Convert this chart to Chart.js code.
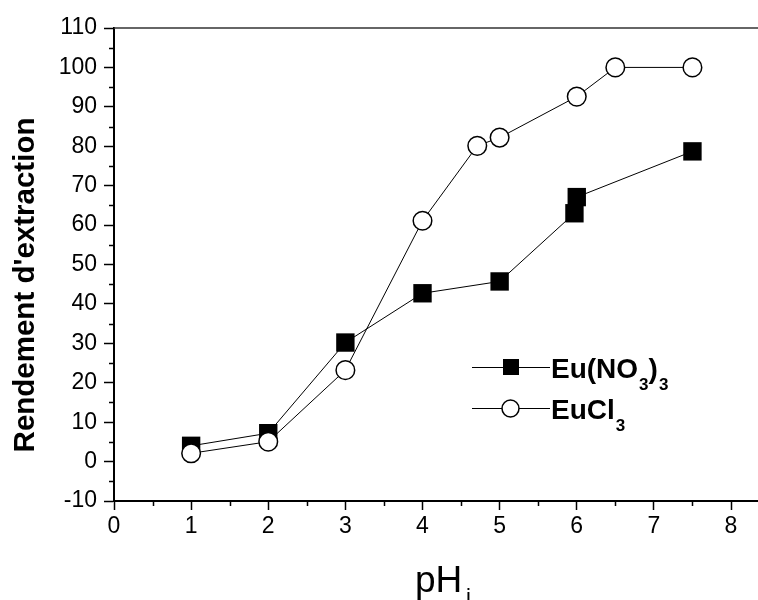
<!DOCTYPE html>
<html>
<head>
<meta charset="utf-8">
<script src="https://cdn.jsdelivr.net/npm/chart.js@4"></script>
<style>
  html, body { margin: 0; padding: 0; background: #fff; overflow: hidden; }
  canvas { display: block; }
</style>
</head>
<body>
<canvas id="extractionChart" width="758" height="600"></canvas>
<script>
// pH values and extraction yields (%)
const phNitrate = [1, 2, 3, 4, 5, 5.97, 6, 7.5];
const yieldNitrate = [4, 7.2, 30.2, 42.7, 45.7, 63, 67.1, 78.7];
const phChloride = [1, 2, 3, 4, 4.71, 5, 6, 6.5, 7.5];
const yieldChloride = [2.1, 5.05, 23.2, 61.1, 80.1, 82.2, 92.6, 100, 100];

const xTicks = [0, 1, 2, 3, 4, 5, 6, 7, 8];
const yTicks = [-10, 0, 10, 20, 30, 40, 50, 60, 70, 80, 90, 100, 110];

const toPoints = (xs, ys) => xs.map((x, i) => ({ x: x, y: ys[i] }));

// minor ticks, top frame, axis titles and the legend (with subscripts)
const decorations = {
    id: 'decorations',
    afterDraw(chart) {
        const ctx = chart.ctx;
        const area = chart.chartArea;
        const xs = chart.scales.x;
        const ys = chart.scales.y;
        ctx.save();
        ctx.strokeStyle = '#000';
        ctx.lineWidth = 1.5;
        ctx.beginPath();
        for (let v = -5; v < 110; v += 10) {
            const py = Math.round(ys.getPixelForValue(v)) + 0.5;
            ctx.moveTo(area.left - 5, py);
            ctx.lineTo(area.left, py);
        }
        for (let v = 0.5; v < 8; v += 1) {
            const px = Math.round(xs.getPixelForValue(v)) + 0.5;
            ctx.moveTo(px, area.bottom);
            ctx.lineTo(px, area.bottom + 5);
        }
        ctx.stroke();

        // top frame
        ctx.strokeStyle = '#333';
        ctx.lineWidth = 1.5;
        ctx.beginPath();
        ctx.moveTo(area.left, area.top);
        ctx.lineTo(area.right, area.top);
        ctx.stroke();

        ctx.fillStyle = '#000';
        // y title
        ctx.save();
        ctx.translate(34, 285);
        ctx.rotate(-Math.PI / 2);
        ctx.font = 'bold 29.5px "Liberation Sans", Arial, sans-serif';
        ctx.textAlign = 'center';
        ctx.textBaseline = 'alphabetic';
        ctx.fillText("Rendement d'extraction", 0, 0);
        ctx.restore();

        // x title pH with subscript i
        ctx.font = '37px "Liberation Sans", Arial, sans-serif';
        ctx.textAlign = 'left';
        ctx.textBaseline = 'alphabetic';
        ctx.fillText('pH', 415, 592);
        ctx.font = '22px "Liberation Sans", Arial, sans-serif';
        ctx.fillText('i', 466, 604);

        // legend
        const rows = [
            { y: 367, parts: [['Eu(NO', false], ['3', true], [')', false], ['3', true]], style: 'rect' },
            { y: 408, parts: [['EuCl', false], ['3', true]], style: 'circle' }
        ];
        rows.forEach(row => {
            ctx.strokeStyle = '#000';
            ctx.lineWidth = 1;
            ctx.beginPath();
            ctx.moveTo(472, row.y + 0.5);
            ctx.lineTo(550, row.y + 0.5);
            ctx.stroke();
            if (row.style === 'rect') {
                ctx.fillStyle = '#000';
                ctx.fillRect(503, row.y - 8, 16, 16);
            } else {
                ctx.beginPath();
                ctx.arc(510.5, row.y + 0.5, 8.5, 0, Math.PI * 2);
                ctx.fillStyle = '#fff';
                ctx.fill();
                ctx.lineWidth = 1.5;
                ctx.stroke();
            }
            ctx.fillStyle = '#000';
            let px = 551;
            row.parts.forEach(([txt, sub]) => {
                ctx.font = sub ? 'bold 17px "Liberation Sans", Arial, sans-serif'
                               : 'bold 28px "Liberation Sans", Arial, sans-serif';
                ctx.fillText(txt, px, sub ? row.y + 23 : row.y + 11);
                px += ctx.measureText(txt).width + (sub ? 0 : 1);
            });
        });
        ctx.restore();
    }
};

const tickFont = { family: '"Liberation Sans", Arial, sans-serif', size: 23 };

new Chart(document.getElementById('extractionChart').getContext('2d'), {
    type: 'line',
    data: {
        datasets: [{
            label: 'EuCl3',
            data: toPoints(phChloride, yieldChloride),
            borderColor: '#000',
            borderWidth: 1,
            pointStyle: 'circle',
            pointRadius: 9.3,
            pointBorderWidth: 1.5,
            pointBackgroundColor: '#fff',
            pointBorderColor: '#000',
            order: 0
        }, {
            label: 'Eu(NO3)3',
            data: toPoints(phNitrate, yieldNitrate),
            borderColor: '#000',
            borderWidth: 1,
            pointStyle: 'rect',
            pointRadius: 13,
            pointBorderWidth: 0,
            pointBackgroundColor: '#000',
            pointBorderColor: '#000',
            order: 1
        }]
    },
    options: {
        responsive: false,
        animation: false,
        clip: false,
        layout: { autoPadding: false, padding: { left: 0, right: 0, top: 28, bottom: 0 } },
        plugins: {
            legend: { display: false },
            tooltip: { enabled: false }
        },
        scales: {
            x: {
                type: 'linear',
                min: 0,
                max: 8.35,
                afterFit: s => { s.height = 99; s.paddingRight = 0; },
                afterBuildTicks: s => { s.ticks = xTicks.map(v => ({ value: v })); },
                border: { display: true, color: '#000', width: 2 },
                grid: { drawOnChartArea: false, drawTicks: true, tickLength: 9, tickColor: '#000', tickWidth: 1.5 },
                ticks: { color: '#000', font: tickFont, padding: 3, maxRotation: 0 }
            },
            y: {
                type: 'linear',
                min: -10,
                max: 110,
                afterFit: s => { s.width = 114; },
                afterBuildTicks: s => { s.ticks = yTicks.map(v => ({ value: v })); },
                border: { display: true, color: '#000', width: 2 },
                grid: { drawOnChartArea: false, drawTicks: true, tickLength: 10, tickColor: '#000', tickWidth: 1.5 },
                ticks: { color: '#000', font: tickFont, padding: 7 }
            }
        }
    },
    plugins: [decorations]
});
</script>
</body>
</html>
